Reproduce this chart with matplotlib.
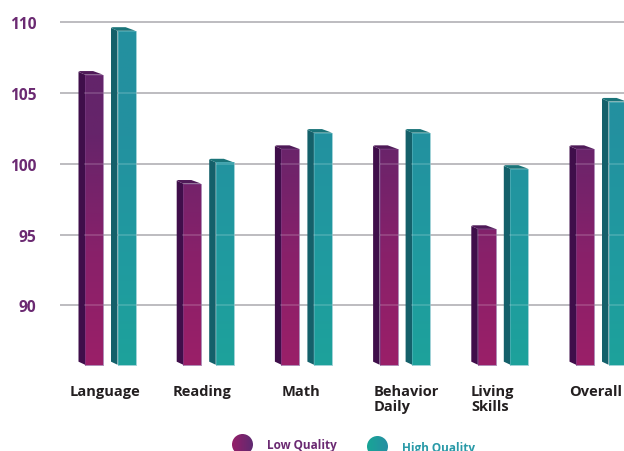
import numpy as np
import matplotlib
matplotlib.use("Agg")
import matplotlib.pyplot as plt
from matplotlib.colors import LinearSegmentedColormap
from matplotlib.patches import Polygon, Circle

plt.rcParams['font.family'] = ['Open Sans', 'DejaVu Sans']

categories = ["Language", "Reading", "Math", "Behavior\nDaily", "Living\nSkills", "Overall"]
low_quality = [106.3, 98.6, 101.05, 101.05, 95.4, 101.05]
high_quality = [109.4, 100.1, 102.2, 102.2, 99.65, 104.4]
y_ticks = [90, 95, 100, 105, 110]
series_names = ["Low Quality", "High Quality"]

W, H = 624, 452
PX_X = 98.2          # px per category
PX_Y = 14.15         # px per value unit
X0 = 110             # px of category 0
Y100 = 164.8         # px of value 100
BASE = 85.8
L, R, T, B = 60, 624, 20, 369

fig = plt.figure(figsize=(W / 100, H / 100), dpi=100, facecolor='white')
ax = fig.add_axes([L / W, 1 - B / H, (R - L) / W, (B - T) / H])
xlim = ((L - X0) / PX_X, (R - X0) / PX_X)
ylim = (100 - (B - Y100) / PX_Y, 100 + (Y100 - T) / PX_Y)

low_cmap = LinearSegmentedColormap.from_list("low", ["#9b1f68", "#88216a", "#66246a", "#60246a"])
high_cmap = LinearSegmentedColormap.from_list("high", ["#1da29b", "#209aa0", "#23919f", "#23909f"])
styles = [
    dict(cmap=low_cmap, side="#3f0e4a", top="#4f1a58", edge="#7a3f85", offset=-16 / PX_X),
    dict(cmap=high_cmap, side="#14606a", top="#1a7479", edge="#5fb4bc", offset=16.5 / PX_X),
]
fw = 18 / PX_X
sw = 6.5 / PX_X
rise = 3.6 / PX_Y
grad = np.linspace(0, 1, 256).reshape(-1, 1)

ax.hlines(y_ticks, *xlim, color="#b8b6bb", lw=1.3, zorder=1)

for values, st in zip([low_quality, high_quality], styles):
    xs = np.arange(len(values)) + st['offset']
    bars = ax.bar(xs, np.array(values) - BASE, fw, bottom=BASE, color='none', zorder=3)
    for x, v, bar in zip(xs, values, bars):
        lft, rgt = x - fw / 2, x + fw / 2
        # left side face
        ax.add_patch(Polygon([(lft, BASE), (lft - sw, BASE + rise * 0.85),
                              (lft - sw, v + rise * 0.8), (lft, v)],
                             closed=True, fc=st['side'], ec='none', zorder=2))
        # top face
        ax.add_patch(Polygon([(lft, v), (lft - sw, v + rise * 0.8), (lft - sw * 0.75, v + rise),
                              (lft + fw * 0.45, v + rise), (rgt, v)],
                             closed=True, fc=st['top'], ec='none', zorder=2))
        # front face with a vertical gradient
        im = ax.imshow(grad, extent=(lft, rgt, ylim[0], ylim[1]), origin='lower',
                       cmap=st['cmap'], aspect='auto', zorder=3, vmin=0, vmax=1)
        im.set_clip_path(bar)
        ax.plot([lft, lft, rgt, rgt, lft], [BASE, v, v, BASE, BASE],
                color=st['edge'], lw=0.6, alpha=0.7, zorder=4)

# gridlines faintly show through the bars
for yt in y_ticks:
    for values, st in zip([low_quality, high_quality], styles):
        for i, v in enumerate(values):
            if v > yt:
                x = i + st['offset']
                ax.plot([x - fw / 2, x + fw / 2], [yt, yt], color='white', alpha=0.18, lw=1.2, zorder=5)

ax.set_xlim(*xlim)
ax.set_ylim(*ylim)
for s in ax.spines.values():
    s.set_visible(False)
ax.set_yticks(y_ticks)
ax.set_yticklabels([str(t) for t in y_ticks], fontsize=11.2, fontweight='bold', color="#6b2a72")
ax.tick_params(axis='y', length=0, pad=17)
label_shift = [-5, -6, -5, 2, -10, -5]
ax.set_xticks(np.arange(len(categories)) + np.array(label_shift) / PX_X)
ax.set_xticklabels(categories, fontsize=10.5, fontweight='bold', color="#231f20",
                   linespacing=1.05, multialignment='left')
ax.tick_params(axis='x', length=0, pad=11.5)

# legend
def legend_dot(cx, cy, cmap):
    r = 10.5
    a = fig.add_axes([(cx - r) / W, 1 - (cy + r) / H, 2 * r / W, 2 * r / H])
    a.set_axis_off()
    a.set_xlim(0, 1)
    a.set_ylim(0, 1)
    im = a.imshow(np.linspace(0, 1, 64).reshape(1, -1), extent=(0, 1, 0, 1), cmap=cmap, aspect='auto')
    c = Circle((0.5, 0.5), 0.5, transform=a.transData, fc='none', ec='none')
    a.add_patch(c)
    im.set_clip_path(c)

dot_low = LinearSegmentedColormap.from_list("dl", ["#951f68", "#5f2a72"])
dot_high = LinearSegmentedColormap.from_list("dh", ["#18a596", "#268fa3"])
legend_dot(242.5, 445.5, dot_low)
legend_dot(377.5, 447.5, dot_high)
fig.text(267 / W, 1 - 445.5 / H, series_names[0], fontsize=8.5, fontweight='bold', color="#6b2a72",
         ha='left', va='center')
fig.text(402 / W, 1 - 448.5 / H, series_names[1], fontsize=8.5, fontweight='bold', color="#2a9aa8",
         ha='left', va='center')

fig.savefig("out.png", dpi=100, facecolor='white')
